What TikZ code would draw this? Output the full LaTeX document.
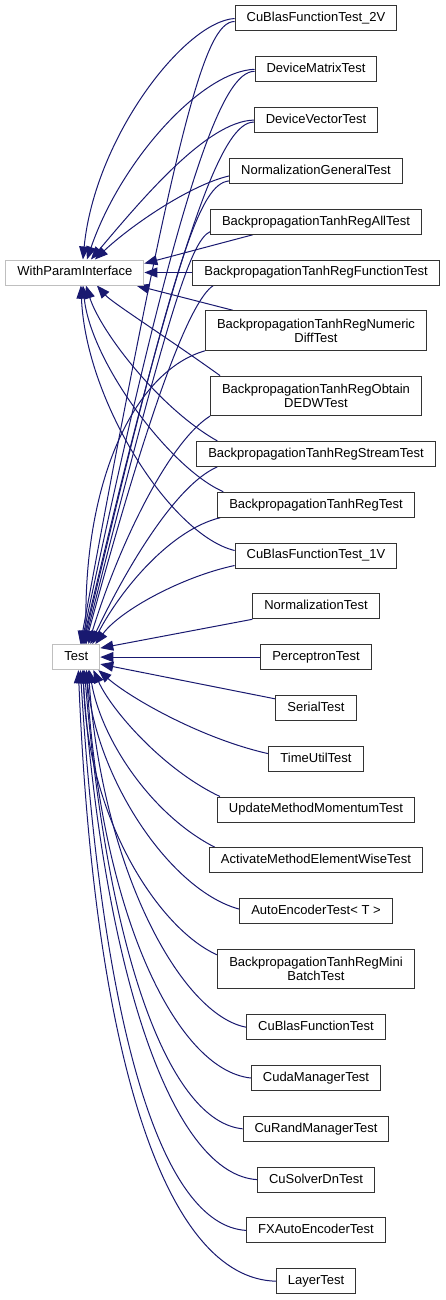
\documentclass[tikz,border=0pt]{standalone}
\usepackage{fontspec}
\setmainfont{Liberation Sans}
\usetikzlibrary{arrows.meta,positioning,backgrounds}
\definecolor{edgeblue}{HTML}{191970}

\begin{document}
\begin{tikzpicture}[
    x=1pt, y=-1pt,
    every node/.style={
        font=\fontsize{13pt}{14pt}\selectfont
    },
    cls/.style={
        draw=black!80, fill=white, line width=1pt,
        inner xsep=11.5pt, inner ysep=2pt,
        minimum height=25pt,
        text height=9.5pt, text depth=2.7pt
    },
    cls2/.style={
        draw=black!80, fill=white, line width=1pt,
        inner xsep=11.5pt, inner ysep=2pt,
        minimum height=39.5pt, align=center
    },
    base/.style={cls, draw=black!25},
    inh/.style={draw=edgeblue, line width=1pt, -{Triangle[length=13pt,width=10pt]}},
    node distance=24.8pt
]
\useasboundingbox (0,0) rectangle (445,1300);

% derived classes, one column
\node[cls] (c2v) at (316,18.5) {CuBlasFunctionTest\_2V};
\node[cls, below=of c2v] (dmat) {DeviceMatrixTest};
\node[cls, below=of dmat] (dvec) {DeviceVectorTest};
\node[cls, below=of dvec] (normgen) {NormalizationGeneralTest};
\node[cls, below=of normgen] (bpall) {BackpropagationTanhRegAllTest};
\node[cls, below=of bpall] (bpfunc) {BackpropagationTanhRegFunctionTest};
\node[cls2, below=of bpfunc] (bpnum) {BackpropagationTanhRegNumeric\\DiffTest};
\node[cls2, below=of bpnum] (bpdedw) {BackpropagationTanhRegObtain\\DEDWTest};
\node[cls, below=of bpdedw] (bpstream) {BackpropagationTanhRegStreamTest};
\node[cls, below=of bpstream] (bpreg) {BackpropagationTanhRegTest};
\node[cls, below=of bpreg] (c1v) {CuBlasFunctionTest\_1V};
\node[cls, below=of c1v] (norm) {NormalizationTest};
\node[cls, below=of norm] (perc) {PerceptronTest};
\node[cls, below=of perc] (serial) {SerialTest};
\node[cls, below=of serial] (timeutil) {TimeUtilTest};
\node[cls, below=of timeutil] (update) {UpdateMethodMomentumTest};
\node[cls, below=of update] (activate) {ActivateMethodElementWiseTest};
\node[cls, below=of activate] (autoenc) {AutoEncoderTest< T >};
\node[cls2, below=of autoenc] (bpmini) {BackpropagationTanhRegMini\\BatchTest};
\node[cls, below=of bpmini] (cublas) {CuBlasFunctionTest};
\node[cls, below=of cublas] (cudamgr) {CudaManagerTest};
\node[cls, below=of cudamgr] (curand) {CuRandManagerTest};
\node[cls, below=of curand] (cusolver) {CuSolverDnTest};
\node[cls, below=of cusolver] (fxauto) {FXAutoEncoderTest};
\node[cls, below=of fxauto] (layer) {LayerTest};

% base classes
\node[base, left=48pt of bpfunc] (wpi) {WithParamInterface};
\node[base, left=160pt of perc] (test) {Test};

\begin{scope}[on background layer]
\fill[white] (0,0) rectangle (445,1300);

% edges to WithParamInterface
\draw[inh] (c2v.west) .. controls +(-50,3) and +(12,-122) .. ([xshift=8pt]wpi.north);
\draw[inh] (dmat.west) .. controls +(-53,2) and +(34,-99) .. ([xshift=12pt]wpi.north);
\draw[inh] (dvec.west) .. controls +(-47,1) and +(50,-59) .. ([xshift=16pt]wpi.north);
\draw[inh] ([yshift=-5pt]normgen.west) .. controls +(-39,9) and +(36,-34) .. ([xshift=20pt]wpi.north);
\draw[inh] ([xshift=43pt]bpall.south west) -- ([yshift=-4pt]wpi.north east);
\draw[inh] (bpfunc.west) -- (wpi.east);
\draw[inh] ([xshift=28pt]bpnum.north west) -- ([xshift=-8pt]wpi.south east);
\draw[inh] ([xshift=10pt]bpdedw.north west) .. controls +(-50,-36) and +(15,17) .. ([xshift=22pt]wpi.south);
\draw[inh] ([xshift=21pt]bpstream.north west) .. controls +(-57,-32) and +(15,47) .. ([xshift=11pt]wpi.south);
\draw[inh] ([xshift=6pt]bpreg.north west) .. controls +(-53,-23) and +(8,77) .. ([xshift=8pt]wpi.south);
\draw[inh] ([yshift=5pt]c1v.west) .. controls +(-63,-15) and +(5,117) .. ([xshift=6pt]wpi.south);

% edges to Test, from above
\draw[inh] ([yshift=-3pt]c2v.west) .. controls +(-30,0) and +(96,-520) .. ([xshift=4pt]test.north);
\draw[inh] ([yshift=-2pt]dmat.west) .. controls +(-31,0) and +(100,-474) .. ([xshift=5pt]test.north);
\draw[inh] ([yshift=-2pt]dvec.west) .. controls +(-30,0) and +(101,-429) .. ([xshift=6pt]test.north);
\draw[inh] ([yshift=-10pt]normgen.west) .. controls +(-29,3) and +(93,-394) .. ([xshift=7pt]test.north);
\draw[inh] ([yshift=3pt]bpall.south west) .. controls +(-20,9) and +(82,-324) .. ([xshift=8pt]test.north);
\draw[inh] ([xshift=21pt]bpfunc.south west) .. controls +(-23,15) and +(66,-244) .. ([xshift=9pt]test.north);
\draw[inh] (bpnum.south west) .. controls +(-70,20) and +(-4,-164) .. ([xshift=10pt]test.north);
\draw[inh] (bpdedw.south west) .. controls +(-40,25) and +(32,-104) .. ([xshift=12pt]test.north);
\draw[inh] ([xshift=21pt]bpstream.south west) .. controls +(-42,18) and +(35,-74) .. ([xshift=14pt]test.north);
\draw[inh] ([xshift=3pt]bpreg.south west) .. controls +(-50,12) and +(28,-54) .. ([xshift=16pt]test.north);
\draw[inh] ([yshift=-10pt]c1v.west) .. controls +(-52,11) and +(25,-34) .. ([xshift=19pt]test.north);

% edges to Test, from the right
\draw[inh] (norm.south west) -- ([yshift=9pt]test.east);
\draw[inh] (perc.west) -- (test.east);
\draw[inh] ([yshift=-4pt]serial.north west) -- ([yshift=-7pt]test.east);

% edges to Test, from below
\draw[inh] ([yshift=5pt]timeutil.west) .. controls +(-67,-15) and +(32,28) .. ([xshift=22pt]test.south);
\draw[inh] ([xshift=3pt]update.north west) .. controls +(-57,-27) and +(18,40) .. ([xshift=17pt]test.south);
\draw[inh] ([xshift=6pt]activate.north west) .. controls +(-63,-32) and +(12,70) .. ([xshift=13pt]test.south);
\draw[inh] ([yshift=2pt]autoenc.west) .. controls +(-68,-18) and +(10,110) .. ([xshift=10pt]test.south);
\draw[inh] ([yshift=-6pt]bpmini.north west) .. controls +(-57,-25) and +(3,150) .. ([xshift=7pt]test.south);
\draw[inh] (cublas.west) .. controls +(-65,-12) and +(14,200) .. ([xshift=12pt]test.south);
\draw[inh] (cudamgr.west) .. controls +(-76,-8) and +(14,240) .. ([xshift=10pt]test.south);
\draw[inh] (curand.west) .. controls +(-72,-7) and +(24,290) .. ([xshift=8pt]test.south);
\draw[inh] (cusolver.west) .. controls +(-81,-5) and +(24,320) .. ([xshift=6pt]test.south);
\draw[inh] (fxauto.west) .. controls +(-85,-5) and +(22,360) .. ([xshift=4pt]test.south);
\draw[inh] (layer.west) .. controls +(-110,-3) and +(16,390) .. ([xshift=2pt]test.south);
\end{scope}
\end{tikzpicture}
\end{document}
